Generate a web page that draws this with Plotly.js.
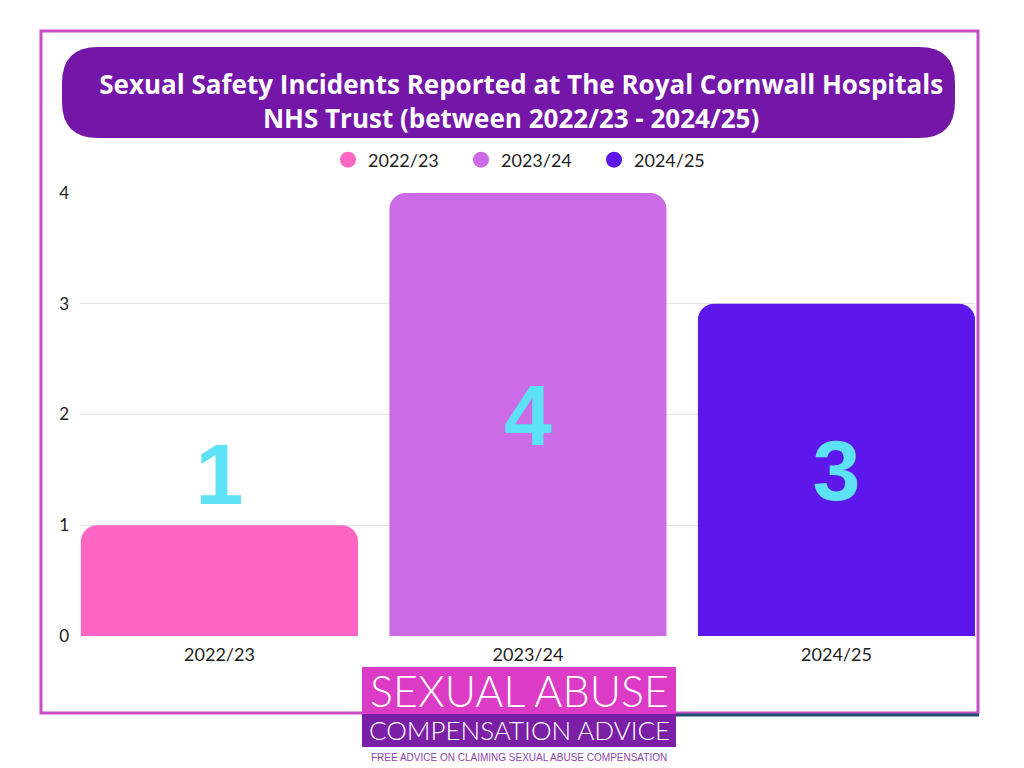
<!DOCTYPE html>
<html>
<head>
<meta charset="utf-8">
<script src="https://cdn.plot.ly/plotly-3.1.0.min.js"></script>
<style>
  html, body { margin: 0; padding: 0; background: #fff; }
  #chart { width: 1024px; height: 768px; }
</style>
</head>
<body>
<div id="chart"></div>
<script>
// chart data
const years = ['2022/23', '2023/24', '2024/25'];
const incidents = [1, 4, 3];
const barColors = ['#ff66c4', '#cb6ce6', '#5e17eb'];
const labelPositions = ['outside', 'inside', 'inside'];
const yTicks = [0, 1, 2, 3, 4];

// plot area in pixels, used to place the decorations
const plotLeft = 80, plotRight = 975, plotTop = 193, plotBottom = 636;
const px = x => (x - plotLeft) / (plotRight - plotLeft);
const py = y => (plotBottom - y) / (plotBottom - plotTop);

const bars = {
    type: 'bar',
    x: years,
    y: incidents,
    marker: { color: barColors, cornerradius: 16 },
    text: incidents.map(String),
    textposition: labelPositions,
    insidetextanchor: 'middle',
    constraintext: 'none',
    cliponaxis: false,
    textfont: { family: 'Liberation Sans, Arial, sans-serif', size: 86, weight: 700, color: '#5ce1f5' },
    showlegend: false,
    hoverinfo: 'none'
};

// legend-only traces so the legend gets round markers
const legendItems = years.map((yr, i) => ({
    type: 'scatter',
    mode: 'markers',
    x: [yr],
    y: [null],
    name: yr,
    marker: { color: barColors[i], size: 16, symbol: 'circle' },
    hoverinfo: 'none'
}));

function roundRect(x0, y0, x1, y1, r) {
    // rounded rectangle path in paper coords (pixel input)
    const X = px, Y = py;
    return `M ${X(x0 + r)} ${Y(y0)} L ${X(x1 - r)} ${Y(y0)} ` +
        `Q ${X(x1)} ${Y(y0)} ${X(x1)} ${Y(y0 + r)} L ${X(x1)} ${Y(y1 - r)} ` +
        `Q ${X(x1)} ${Y(y1)} ${X(x1 - r)} ${Y(y1)} L ${X(x0 + r)} ${Y(y1)} ` +
        `Q ${X(x0)} ${Y(y1)} ${X(x0)} ${Y(y1 - r)} L ${X(x0)} ${Y(y0 + r)} ` +
        `Q ${X(x0)} ${Y(y0)} ${X(x0 + r)} ${Y(y0)} Z`;
}

const shapes = [
    // outer frame
    { type: 'rect', xref: 'paper', yref: 'paper', layer: 'below',
      x0: px(41), x1: px(978), y0: py(713), y1: py(31),
      line: { color: '#c94fc8', width: 3 }, fillcolor: 'rgba(0,0,0,0)' },
    // title box
    { type: 'path', xref: 'paper', yref: 'paper', layer: 'above',
      path: roundRect(62, 47, 955, 138, 36),
      fillcolor: '#7417a9', line: { width: 0 } },
    // logo boxes
    { type: 'rect', xref: 'paper', yref: 'paper', layer: 'above',
      x0: px(362), x1: px(676), y0: py(714), y1: py(667),
      fillcolor: '#db3bc5', line: { width: 0 } },
    { type: 'rect', xref: 'paper', yref: 'paper', layer: 'above',
      x0: px(362), x1: px(676), y0: py(747), y1: py(714),
      fillcolor: '#7a1fa6', line: { width: 0 } },
    // dark line to the right of the logo
    { type: 'line', xref: 'paper', yref: 'paper', layer: 'above',
      x0: px(676), x1: px(979), y0: py(715), y1: py(715),
      line: { color: '#1d4f73', width: 3 } }
];

const annotations = [
    { xref: 'paper', yref: 'paper', x: px(519), y: py(690), xanchor: 'center', yanchor: 'middle',
      showarrow: false, text: 'SEXUAL ABUSE',
      font: { family: 'Lato, sans-serif', size: 43, weight: 300, color: '#ffffff' } },
    { xref: 'paper', yref: 'paper', x: px(519), y: py(730), xanchor: 'center', yanchor: 'middle',
      showarrow: false, text: 'COMPENSATION ADVICE',
      font: { family: 'Lato, sans-serif', size: 26, weight: 300, color: '#ffffff' } },
    { xref: 'paper', yref: 'paper', x: px(519), y: py(757), xanchor: 'center', yanchor: 'middle',
      showarrow: false, text: 'FREE ADVICE ON CLAIMING SEXUAL ABUSE COMPENSATION',
      font: { family: 'Liberation Sans Narrow, sans-serif', size: 10, color: '#8a45aa' } }
];

const layout = {
    width: 1024,
    height: 768,
    margin: { l: plotLeft, r: 1024 - plotRight, t: plotTop, b: 768 - plotBottom },
    paper_bgcolor: '#ffffff',
    plot_bgcolor: '#ffffff',
    title: {
        text: 'Sexual Safety Incidents Reported at The Royal Cornwall Hospitals<br>NHS Trust (between 2022/23 - 2024/25)&nbsp;&nbsp;&nbsp;',
        font: { family: 'Open Sans, sans-serif', size: 26, weight: 700, color: '#ffffff' },
        xref: 'container', x: 0.509, xanchor: 'center',
        yref: 'container', y: 1 - 94 / 768, yanchor: 'middle'
    },
    showlegend: true,
    legend: {
        orientation: 'h',
        x: 0.5, xanchor: 'center',
        y: py(160), yanchor: 'middle',
        font: { family: 'Lato, sans-serif', size: 18, color: '#222222' },
        entrywidth: 88, entrywidthmode: 'pixels',
        bgcolor: 'rgba(0,0,0,0)'
    },
    bargap: 0.102,
    xaxis: {
        type: 'category',
        range: [-0.452, 2.449],
        showgrid: false,
        zeroline: false,
        showline: false,
        ticks: '',
        ticklabelstandoff: 6,
        tickfont: { family: 'Lato, sans-serif', size: 18, color: '#222222' },
        fixedrange: true
    },
    yaxis: {
        range: [0, 4],
        tickvals: yTicks,
        showgrid: true,
        gridcolor: '#e4e4e4',
        gridwidth: 1,
        zeroline: false,
        showline: false,
        ticks: '',
        ticklabelstandoff: 10,
        tickfont: { family: 'Lato, sans-serif', size: 17, color: '#222222' },
        fixedrange: true
    },
    shapes: shapes,
    annotations: annotations,
    hovermode: false
};

Plotly.newPlot('chart', [bars, ...legendItems], layout, { displayModeBar: false, staticPlot: true });
</script>
</body>
</html>
